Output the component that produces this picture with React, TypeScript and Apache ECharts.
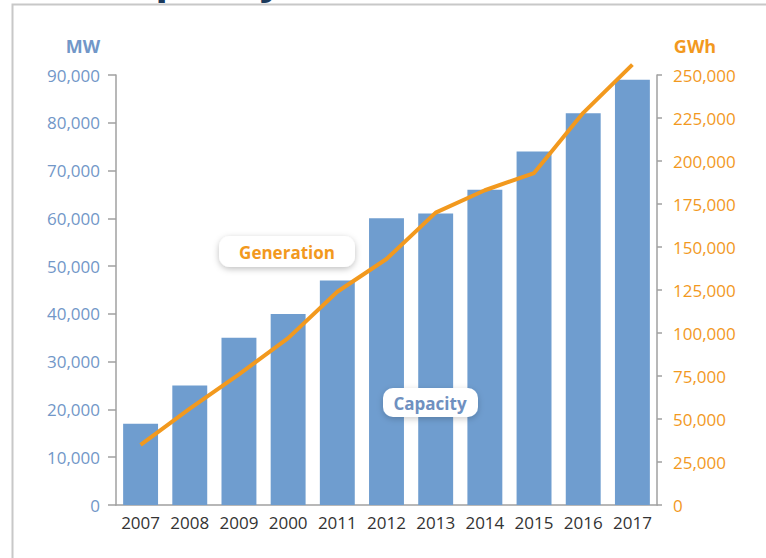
import React, { useEffect, useRef } from "react";
import * as echarts from "echarts";

const years = ["2007", "2008", "2009", "2000", "2011", "2012", "2013", "2014", "2015", "2016", "2017"];
const capacityMW = [17000, 25000, 35000, 40000, 47000, 60000, 61000, 66000, 74000, 82000, 89000];
const generationGWh = [35000, 56000, 76000, 97000, 124000, 143000, 170000, 183000, 193000, 228000, 256000];

const leftUnit = "MW";
const rightUnit = "GWh";
const titleText = "Capacity";
const generationLabel = "Generation";
const capacityLabel = "Capacity";

const FONT = "'Open Sans', sans-serif";
const BLUE_TXT = "#7297c8";
const ORANGE = "#f2991e";
const BAR = "#6f9dcf";
const AXIS = "#a0a0a0";

const fmt = (v: number) => v.toLocaleString("en-US");

export default function App() {
  const ref = useRef<HTMLDivElement>(null);
  useEffect(() => {
    if (!ref.current) return;
    const chart = echarts.init(ref.current, undefined, { renderer: "svg" });
    chart.setOption({
      animation: false,
      backgroundColor: "#ffffff",
      grid: { left: 116, right: 109, top: 75, bottom: 53 },
      xAxis: {
        type: "category",
        data: years,
        axisLine: { show: true, lineStyle: { color: AXIS, width: 1.5 } },
        axisTick: { show: false },
        axisLabel: { interval: 0, color: "#333333", fontSize: 17, fontFamily: FONT, margin: 9 },
      },
      yAxis: [
        {
          type: "value",
          min: 0,
          max: 90000,
          interval: 10000,
          position: "left",
          splitLine: { show: false },
          axisLine: { show: true, lineStyle: { color: AXIS, width: 1.5 } },
          axisTick: { show: true, length: 8, lineStyle: { color: AXIS, width: 1.5 } },
          axisLabel: { color: BLUE_TXT, fontSize: 17, fontFamily: FONT, margin: 16, formatter: fmt },
        },
        {
          type: "value",
          min: 0,
          max: 250000,
          interval: 25000,
          position: "right",
          splitLine: { show: false },
          axisLine: { show: true, lineStyle: { color: AXIS, width: 1.5 } },
          axisTick: { show: true, length: 5, lineStyle: { color: AXIS, width: 1.5 } },
          axisLabel: { color: ORANGE, fontSize: 17, fontFamily: FONT, margin: 16, formatter: fmt },
        },
      ],
      series: [
        {
          name: "Capacity",
          type: "bar",
          yAxisIndex: 0,
          data: capacityMW,
          barCategoryGap: "29%",
          itemStyle: { color: BAR },
          z: 2,
        },
        {
          name: "Generation",
          type: "line",
          yAxisIndex: 1,
          data: generationGWh,
          showSymbol: false,
          symbol: "none",
          clip: false,
          lineStyle: { color: ORANGE, width: 4 },
          z: 3,
        },
      ],
      graphic: [
        {
          type: "text",
          x: 103,
          y: -24,
          z: 1,
          style: {
            text: titleText,
            font: `bold 42px ${FONT}`,
            fill: "#1b3a5c",
            verticalAlign: "middle",
          },
        },
        {
          type: "polyline",
          z: 5,
          shape: { points: [[12.5, 558], [12.5, 4.5], [766, 4.5]] },
          style: { stroke: "#c8c8c8", lineWidth: 2, fill: "none" },
        },
        {
          type: "text",
          x: 83,
          y: 46,
          style: { text: leftUnit, font: `bold 18px ${FONT}`, fill: BLUE_TXT, align: "center", verticalAlign: "middle" },
        },
        {
          type: "text",
          x: 695,
          y: 46,
          style: { text: rightUnit, font: `bold 18px ${FONT}`, fill: ORANGE, align: "center", verticalAlign: "middle" },
        },
        {
          type: "rect",
          z: 100,
          shape: { x: 219, y: 236, width: 136, height: 31, r: 11 },
          style: { fill: "#ffffff", shadowBlur: 6, shadowColor: "rgba(0,0,0,0.25)", shadowOffsetY: 2 },
        },
        {
          type: "text",
          z: 101,
          x: 287,
          y: 252,
          style: { text: generationLabel, font: `bold 17px ${FONT}`, fill: ORANGE, align: "center", verticalAlign: "middle" },
        },
        {
          type: "rect",
          z: 100,
          shape: { x: 383, y: 388, width: 95, height: 29, r: 10 },
          style: { fill: "#ffffff", shadowBlur: 6, shadowColor: "rgba(0,0,0,0.2)", shadowOffsetY: 2 },
        },
        {
          type: "text",
          z: 101,
          x: 430,
          y: 403,
          style: { text: capacityLabel, font: `bold 17px ${FONT}`, fill: "#6f90c0", align: "center", verticalAlign: "middle" },
        },
      ],
    });
    return () => chart.dispose();
  }, []);
  return (
    <div
      ref={ref}
      style={{ position: "absolute", left: 0, top: 0, width: 766, height: 558 }}
    />
  );
}
